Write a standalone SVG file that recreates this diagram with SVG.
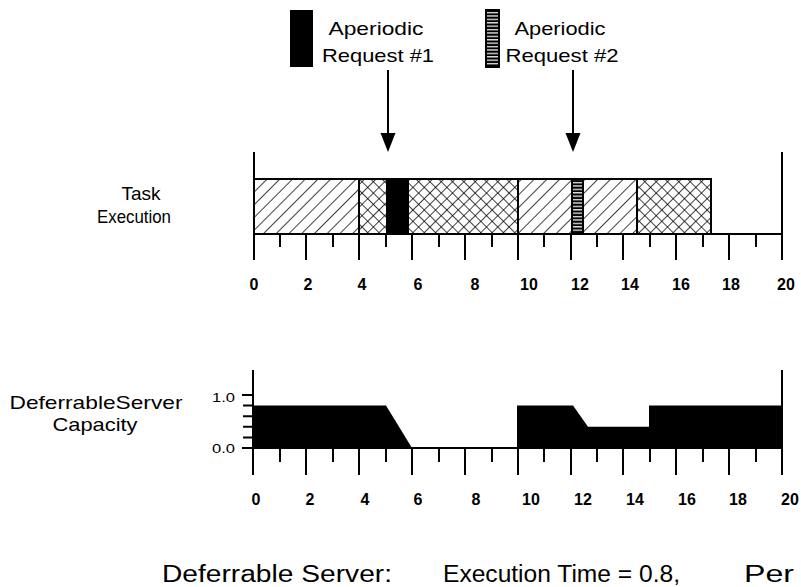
<svg xmlns="http://www.w3.org/2000/svg" width="801" height="587" viewBox="0 0 801 587">
<style>
text{font-family:"Liberation Sans",Arial,sans-serif;fill:#000}
.lbl{font-size:19px}
.num{font-size:16px;font-weight:bold;text-anchor:middle}
.yl{font-size:13px}
.ax{stroke:#000;stroke-width:2;fill:none}
.blk{stroke:#000;stroke-width:2}
</style>
<defs>
<pattern id="hatch" patternUnits="userSpaceOnUse" width="9" height="9" patternTransform="rotate(45)">
<rect width="9" height="9" fill="#fff"/>
<line x1="0" y1="0" x2="0" y2="9" stroke="#000" stroke-width="1.5"/>
</pattern>
<pattern id="cross" patternUnits="userSpaceOnUse" width="8" height="8" patternTransform="rotate(45)">
<rect width="8" height="8" fill="#fff"/>
<line x1="0" y1="0" x2="0" y2="8" stroke="#000" stroke-width="1.5"/>
<line x1="0" y1="0" x2="8" y2="0" stroke="#000" stroke-width="1.5"/>
</pattern>
<pattern id="stripe" patternUnits="userSpaceOnUse" width="20" height="3.4">
<rect width="20" height="3.4" fill="#000"/>
<rect x="0" y="1.8" width="20" height="1.2" fill="#fff"/>
</pattern>
</defs>
<rect width="801" height="587" fill="#fff"/>

<g id="legend1">
<rect x="290" y="10" width="23" height="57" fill="#000"/>
<text class="lbl" x="376" y="35" text-anchor="middle" textLength="95" lengthAdjust="spacingAndGlyphs">Aperiodic</text>
<text class="lbl" x="378" y="62" text-anchor="middle" textLength="112" lengthAdjust="spacingAndGlyphs">Request #1</text>
</g>
<g id="legend2">
<rect x="486" y="10" width="13" height="57" fill="url(#stripe)" stroke="#000" stroke-width="2"/>
<text class="lbl" x="560" y="35" text-anchor="middle" textLength="91" lengthAdjust="spacingAndGlyphs">Aperiodic</text>
<text class="lbl" x="562" y="62" text-anchor="middle" textLength="113" lengthAdjust="spacingAndGlyphs">Request #2</text>
</g>

<g id="connectors">
<line x1="388" y1="70" x2="388" y2="140" stroke="#000" stroke-width="2"/>
<polygon points="380.5,133 395.5,133 388,152" fill="#000"/>
<line x1="573" y1="70" x2="573" y2="140" stroke="#000" stroke-width="2"/>
<polygon points="565.5,133 580.5,133 573,152" fill="#000"/>
</g>

<g id="task-label">
<text class="lbl" x="141" y="200" text-anchor="middle" font-size="18">Task</text>
<text class="lbl" x="134" y="223" text-anchor="middle" font-size="18" textLength="74" lengthAdjust="spacingAndGlyphs">Execution</text>
</g>

<g id="task-chart">
<rect x="254" y="179" width="105" height="55" fill="url(#hatch)" class="blk"/>
<rect x="359" y="179" width="28" height="55" fill="url(#cross)" class="blk"/>
<rect x="387" y="179" width="21" height="55" fill="#000" class="blk"/>
<rect x="408" y="179" width="110" height="55" fill="url(#cross)" class="blk"/>
<rect x="518" y="179" width="54" height="55" fill="url(#hatch)" class="blk"/>
<rect x="572" y="179" width="11" height="55" fill="url(#stripe)" class="blk"/>
<rect x="583" y="179" width="54" height="55" fill="url(#hatch)" class="blk"/>
<rect x="637" y="179" width="74" height="55" fill="url(#cross)" class="blk"/>
<path class="ax" d="M254,152V260M782,152V260M254,234H782"/>
<path class="ax" d="M280,234v13M333,234v13M386,234v13M439,234v13M492,234v13M544,234v13M597,234v13M650,234v13M703,234v13M756,234v13"/>
<path class="ax" d="M306,234v26M359,234v26M412,234v26M465,234v26M518,234v26M571,234v26M623,234v26M676,234v26M729,234v26"/>
<g>
<text class="num" x="254" y="290">0</text>
<text class="num" x="308" y="290">2</text>
<text class="num" x="362" y="290">4</text>
<text class="num" x="418" y="290">6</text>
<text class="num" x="475" y="290">8</text>
<text class="num" x="529" y="290">10</text>
<text class="num" x="580" y="290">12</text>
<text class="num" x="630" y="290">14</text>
<text class="num" x="681" y="290">16</text>
<text class="num" x="731" y="290">18</text>
<text class="num" x="786" y="290">20</text>
</g>
</g>

<g id="capacity-label">
<text class="lbl" x="96" y="409" text-anchor="middle" font-size="18" textLength="173" lengthAdjust="spacingAndGlyphs">DeferrableServer</text>
<text class="lbl" x="95" y="431" text-anchor="middle" font-size="18" textLength="85" lengthAdjust="spacingAndGlyphs">Capacity</text>
</g>

<g id="capacity-chart">
<polygon points="254,405.6 386,405.6 412,448 254,448" fill="#000"/>
<polygon points="517,448 517,405.6 573,405.6 588,426.8 649,426.8 649,405.6 782,405.6 782,448" fill="#000"/>
<path class="ax" d="M253,370V475M782,370V475M253,448H782"/>
<path class="ax" d="M242,395H253M243,405.6H253M243,416.2H253M243,426.8H253M243,437.4H253M242,448H253"/>
<path class="ax" d="M280,448v14M333,448v14M386,448v14M439,448v14M492,448v14M544,448v14M597,448v14M650,448v14M703,448v14M756,448v14"/>
<path class="ax" d="M306,448v27M359,448v27M412,448v27M465,448v27M518,448v27M571,448v27M623,448v27M676,448v27M729,448v27"/>
<text class="yl" x="212" y="402" textLength="23" lengthAdjust="spacingAndGlyphs">1.0</text>
<text class="yl" x="212" y="453" textLength="23" lengthAdjust="spacingAndGlyphs">0.0</text>
<g>
<text class="num" x="256" y="505">0</text>
<text class="num" x="310" y="505">2</text>
<text class="num" x="365" y="505">4</text>
<text class="num" x="418" y="505">6</text>
<text class="num" x="476" y="505">8</text>
<text class="num" x="531" y="505">10</text>
<text class="num" x="583" y="505">12</text>
<text class="num" x="635" y="505">14</text>
<text class="num" x="687" y="505">16</text>
<text class="num" x="738" y="505">18</text>
<text class="num" x="790" y="505">20</text>
</g>
</g>

<g id="footer">
<text x="162" y="582" font-size="23" textLength="230" lengthAdjust="spacingAndGlyphs">Deferrable Server:</text>
<text x="443" y="582" font-size="23" textLength="237" lengthAdjust="spacingAndGlyphs">Execution Time = 0.8,</text>
<text x="744" y="582" font-size="23" textLength="50" lengthAdjust="spacingAndGlyphs">Per</text>
</g>
</svg>
